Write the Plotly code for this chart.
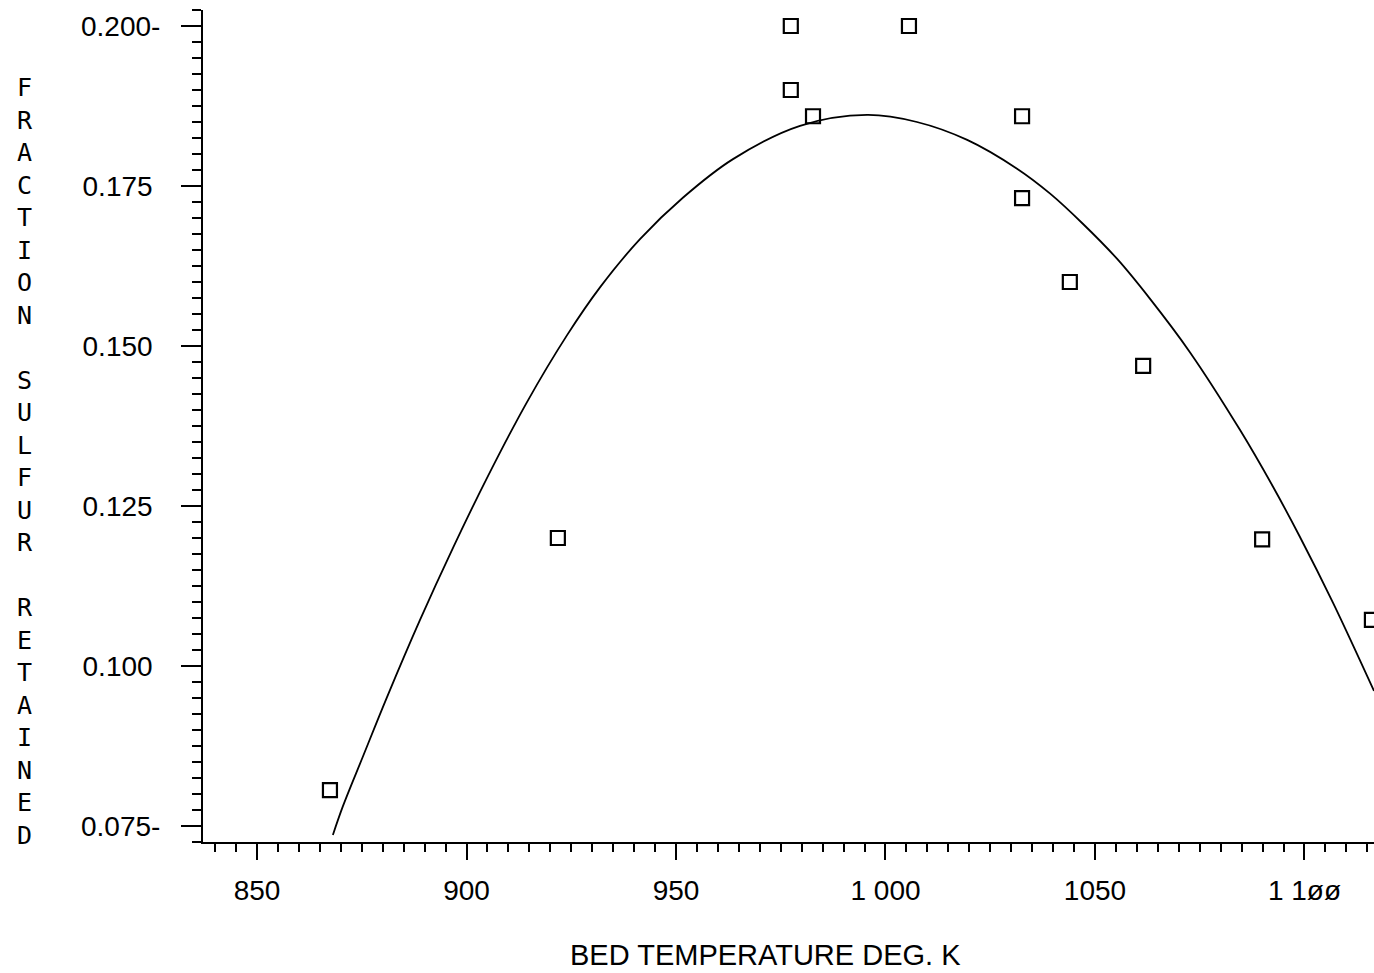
import plotly.graph_objects as go

# Measured sulfur retention vs bed temperature
temp_k = [867.4, 921.8, 977.4, 977.4, 982.7, 1005.6, 1032.6, 1032.6, 1044.0, 1061.5, 1089.9, 1116.1]
frac_retained = [0.0806, 0.1200, 0.2000, 0.1900, 0.1859, 0.2000, 0.1859, 0.1731, 0.1600, 0.1469, 0.1198, 0.1072]

# Fitted retention curve
fit_temp = [868.1, 870.5, 875.3, 881.0, 888.9, 896.8, 904.9, 914.4, 924.0, 931.9, 941.4, 951.7,
            963.6, 979.6, 995.6, 1007.5, 1019.5, 1031.4, 1039.3, 1047.1, 1055.3, 1063.1,
            1072.7, 1084.6, 1092.5, 1098.9, 1106.8, 1116.6]
fit_frac = [0.0736, 0.0781, 0.0859, 0.0951, 0.1072, 0.1185, 0.1294, 0.1412, 0.1517, 0.1592, 0.1667, 0.1732,
            0.1792, 0.1844, 0.1861, 0.1850, 0.1822, 0.1777, 0.1738, 0.1691, 0.1636, 0.1574,
            0.1490, 0.1369, 0.1280, 0.1202, 0.1099, 0.0961]

x_tick_vals = [850, 900, 950, 1000, 1050, 1100]
x_tick_text = ["850", "900", "950", "1 000", "1050", "1 1øø"]
y_tick_vals = [0.075, 0.100, 0.125, 0.150, 0.175, 0.200]
y_tick_text = ["0.075-", "0.100\u00a0", "0.125\u00a0", "0.150\u00a0", "0.175\u00a0", "0.200-"]

y_title = "FRACTION SULFUR RETAINED"
x_title = "BED TEMPERATURE DEG. K"

fig = go.Figure()

fig.add_trace(go.Scatter(
    x=fit_temp, y=fit_frac, mode="lines",
    line=dict(color="black", width=1.8, shape="spline", smoothing=1.0),
    showlegend=False, hoverinfo="skip",
))

fig.add_trace(go.Scatter(
    x=temp_k, y=frac_retained, mode="markers",
    marker=dict(symbol="square-open", size=14, color="black", line=dict(width=2.2, color="black")),
    showlegend=False,
))

axis_font = dict(family="Liberation Sans, Arial, sans-serif", size=28, color="black")

fig.update_xaxes(
    range=[837.1, 1116.6],
    showgrid=False, zeroline=False,
    showline=True, linecolor="black", linewidth=2,
    ticks="outside", ticklen=16, tickwidth=2, tickcolor="black",
    tickvals=x_tick_vals, ticktext=x_tick_text,
    tickfont=axis_font, ticklabelstandoff=6,
    minor=dict(ticks="outside", ticklen=8, tickwidth=2, tickcolor="black", dtick=5, tick0=850, showgrid=False),
)

fig.update_yaxes(
    range=[0.0725, 0.2025],
    showgrid=False, zeroline=False,
    showline=True, linecolor="black", linewidth=2,
    ticks="outside", ticklen=20, tickwidth=2, tickcolor="black",
    tickvals=y_tick_vals, ticktext=y_tick_text,
    tickfont=axis_font, ticklabelstandoff=15,
    minor=dict(ticks="outside", ticklen=9, tickwidth=2, tickcolor="black", dtick=0.0025, tick0=0.075, showgrid=False),
)

# Vertical, letter-stacked y-axis title
stacked = "<br>".join(ch if ch != " " else "\u00a0" for ch in y_title)
fig.add_annotation(
    text=stacked, xref="paper", yref="paper",
    x=-0.152, y=0.4570, xanchor="center", yanchor="middle",
    showarrow=False, align="center",
    font=dict(family="DejaVu Sans Mono, monospace", size=25, color="black"),
)

fig.add_annotation(
    text=x_title, xref="paper", yref="paper",
    x=0.48, y=-0.1358, xanchor="center", yanchor="middle",
    showarrow=False,
    font=dict(family="Liberation Sans, Arial, sans-serif", size=29, color="black"),
)

fig.update_layout(
    width=1374, height=973,
    margin=dict(l=203, r=0, t=10, b=131),
    paper_bgcolor="white", plot_bgcolor="white",
)

fig.write_html("out.html")
